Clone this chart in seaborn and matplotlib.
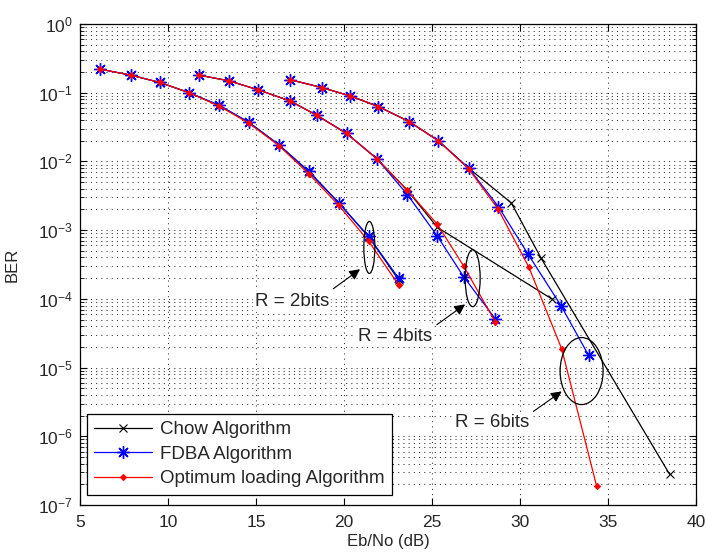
import numpy as np
import pandas as pd
import matplotlib
matplotlib.use("Agg")
import matplotlib.pyplot as plt
from matplotlib.lines import Line2D
from matplotlib.patches import Ellipse
from matplotlib.ticker import FixedLocator, NullFormatter, LogFormatterMathtext
import seaborn as sns

# ---------------- data ----------------
x_r2 = [6.15, 7.9, 9.55, 11.2, 12.9, 14.6, 16.3, 18.0, 19.7, 21.4, 23.1]
chow_r2 = [0.22, 0.18, 0.14, 0.10, 0.065, 0.037, 0.0175, 0.0071, 0.0025, 8.0e-4, 1.9e-4]
fdba_r2 = [0.22, 0.18, 0.141, 0.10, 0.066, 0.037, 0.0174, 0.0072, 0.0025, 8.1e-4, 2.0e-4]
opt_r2 = [0.22, 0.18, 0.141, 0.10, 0.064, 0.036, 0.017, 0.0066, 0.0023, 6.9e-4, 1.6e-4]

x_r4 = [11.76, 13.47, 15.13, 16.93, 18.45, 20.15, 21.86, 23.6, 25.3, 26.8, 28.6]
x_chow_r4 = [11.76, 13.47, 15.13, 16.93, 18.45, 20.15, 21.86, 23.6, 25.3, 31.8]
chow_r4 = [0.18, 0.149, 0.110, 0.076, 0.047, 0.0255, 0.011, 0.0038, 0.0011, 1.0e-4]
fdba_r4 = [0.18, 0.149, 0.110, 0.076, 0.047, 0.0255, 0.011, 0.0033, 8.2e-4, 2.1e-4, 5.1e-5]
opt_r4 = [0.18, 0.149, 0.110, 0.076, 0.047, 0.0255, 0.011, 0.0038, 0.00122, 3.0e-4, 4.6e-5]

x_r6 = [16.93, 18.73, 20.34, 21.95, 23.7, 25.36, 27.1, 28.77, 30.45, 32.35, 33.9]
x_opt_r6 = [16.93, 18.73, 20.34, 21.95, 23.7, 25.36, 27.1, 28.77, 30.5, 32.37, 34.35]
x_chow_r6 = [16.93, 18.73, 20.34, 21.95, 23.7, 25.36, 27.1, 29.5, 31.2, 38.5]
chow_r6 = [0.155, 0.119, 0.09, 0.063, 0.038, 0.020, 0.0079, 0.0025, 3.9e-4, 2.8e-7]
fdba_r6 = [0.155, 0.119, 0.09, 0.063, 0.038, 0.020, 0.0079, 0.0022, 4.5e-4, 7.8e-5, 1.5e-5]
opt_r6 = [0.155, 0.119, 0.09, 0.063, 0.038, 0.020, 0.0077, 0.0020, 2.9e-4, 1.87e-5, 1.9e-7]

algorithms = ["Chow Algorithm", "FDBA Algorithm", "Optimum loading Algorithm"]
rates = ["R = 2bits", "R = 4bits", "R = 6bits"]
x_ticks = [5, 10, 15, 20, 25, 30, 35, 40]
y_ticks = [1e-7, 1e-6, 1e-5, 1e-4, 1e-3, 1e-2, 1e-1, 1e0]

series = [
    (algorithms[0], rates[0], x_r2, chow_r2),
    (algorithms[0], rates[1], x_chow_r4, chow_r4),
    (algorithms[0], rates[2], x_chow_r6, chow_r6),
    (algorithms[1], rates[0], x_r2, fdba_r2),
    (algorithms[1], rates[1], x_r4, fdba_r4),
    (algorithms[1], rates[2], x_r6, fdba_r6),
    (algorithms[2], rates[0], x_r2, opt_r2),
    (algorithms[2], rates[1], x_r4, opt_r4),
    (algorithms[2], rates[2], x_opt_r6, opt_r6),
]
rows = []
for alg, r, xs, ys in series:
    for i, (xv, yv) in enumerate(zip(xs, ys)):
        rows.append({"alg": alg, "R": r, "i": i, "ebno": xv, "ber": yv})
df = pd.DataFrame(rows)

# ---------------- style ----------------
sns.set_style("ticks")
plt.rcParams["font.family"] = ["Liberation Sans", "DejaVu Sans"]
plt.rcParams["mathtext.fontset"] = "custom"
plt.rcParams["mathtext.rm"] = "Liberation Sans"
plt.rcParams["mathtext.it"] = "Liberation Sans:italic"
plt.rcParams["mathtext.bf"] = "Liberation Sans:bold"
plt.rcParams["font.size"] = 12

fig = plt.figure(figsize=(7.06, 5.56), dpi=100)
ax = fig.add_axes([80 / 706, 51 / 556, 616 / 706, 481 / 556])

styles = {
    algorithms[0]: dict(color="black", marker="x", markersize=5.5, mew=0.8,
                        mec="black", mfc="black"),
    algorithms[1]: dict(color="#0000ff", marker=(8, 2, 0), markersize=9, mew=1.0,
                        mec="#0000ff", mfc="#0000ff"),
    algorithms[2]: dict(color="#ff0000", marker="D", markersize=3.2, mew=0.6,
                        mec="#ff0000", mfc="#ff0000"),
}

for alg in algorithms:
    sub = df[df["alg"] == alg]
    sns.lineplot(data=sub, x="ebno", y="ber", units="R", estimator=None,
                 sort=False, ax=ax, legend=False, lw=0.9, **styles[alg])

ax.set_yscale("log")
ax.set_xlim(5, 40)
ax.set_ylim(1e-7, 1e0)
ax.xaxis.set_major_locator(FixedLocator(x_ticks))
ax.yaxis.set_major_locator(FixedLocator(y_ticks))
ax.yaxis.set_major_formatter(LogFormatterMathtext())
minor = [m * d for d in y_ticks[:-1] for m in range(2, 10)]
ax.yaxis.set_minor_locator(FixedLocator(minor))
ax.yaxis.set_minor_formatter(NullFormatter())

grid_kw = dict(linestyle=(0, (1, 4)), color="#333333", lw=0.75)
ax.grid(True, which="major", axis="both", **grid_kw)
ax.grid(True, which="minor", axis="y", **grid_kw)
ax.set_axisbelow(True)

ax.tick_params(which="both", direction="in", top=True, right=True, labelsize=12.5, color="black")
ax.tick_params(which="major", length=5, width=0.8)
ax.tick_params(axis="x", which="major", pad=7)
ax.tick_params(axis="y", which="major", pad=5)
ax.tick_params(which="minor", length=3, width=0.6)
for s in ax.spines.values():
    s.set_color("black")
    s.set_linewidth(0.9)

ax.set_xlabel("Eb/No (dB)", fontsize=12, labelpad=3)
ax.set_ylabel("BER", fontsize=12, labelpad=13)


# ---------------- annotations ----------------
def frac(x, y):
    return ((x - 5) / 35.0, (np.log10(y) + 7) / 7.0)


ellipses = [((21.44, 5.6e-4), 11, 52), ((27.31, 2.0e-4), 15, 57), ((33.5, 8.9e-6), 43, 67)]
for (cx, cy), wpx, hpx in ellipses:
    ax.add_patch(Ellipse(frac(cx, cy), wpx / 616, hpx / 481, transform=ax.transAxes,
                         fill=False, ec="black", lw=0.9, zorder=5))

arrows = [((19.39, 1.4e-4), (20.91, 2.7e-4)),
          ((25.27, 4.2e-5), (26.88, 8.3e-5)),
          ((30.76, 2.3e-6), (32.37, 4.5e-6))]
for tail, head in arrows:
    ax.annotate("", xy=head, xytext=tail,
                arrowprops=dict(arrowstyle="-|>", color="black", lw=0.8,
                                mutation_scale=16, shrinkA=0, shrinkB=0),
                zorder=6)

texts = [(14.94, 9.2e-5, rates[0]), (20.8, 2.8e-5, rates[1]), (26.3, 1.58e-6, rates[2])]
for tx, ty, s in texts:
    ax.text(tx, ty, s, ha="left", va="center", fontsize=13.5, zorder=6,
            bbox=dict(facecolor="white", edgecolor="none", pad=1.5))

# ---------------- legend ----------------
handles = [Line2D([], [], lw=0.9, **styles[a]) for a in algorithms]
leg = ax.legend(handles, algorithms, loc="lower left", bbox_to_anchor=(0.011, 0.021),
                borderaxespad=0, fancybox=False, framealpha=1, edgecolor="black",
                fontsize=13.5, handlelength=3.1, handletextpad=0.4, labelspacing=0.4,
                borderpad=0.4)
leg.get_frame().set_linewidth(0.9)
leg.set_zorder(10)

fig.savefig("out.png", dpi=100, facecolor="white")
